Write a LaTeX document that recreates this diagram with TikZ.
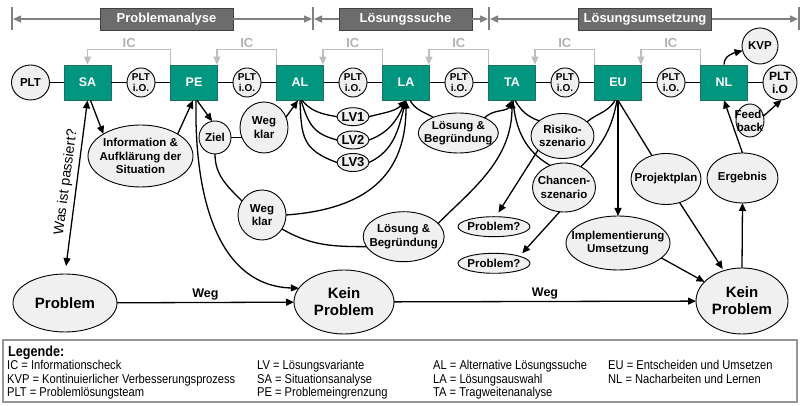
\documentclass[tikz,border=0pt]{standalone}
\usepackage{fontspec}
\setmainfont{Liberation Sans}
\newfontfamily\narrowfont{Liberation Sans}[FakeStretch=0.87]
\usetikzlibrary{arrows.meta,shapes.geometric}

\definecolor{boxteal}{RGB}{0,150,128}
\definecolor{boxedge}{RGB}{28,112,96}
\definecolor{phasefill}{RGB}{108,108,108}
\definecolor{bargray}{RGB}{128,128,128}
\definecolor{icgray}{RGB}{190,190,190}
\definecolor{ictext}{RGB}{178,178,178}
\definecolor{bubfill}{RGB}{240,240,240}
\definecolor{legendedge}{RGB}{150,150,150}

\newcommand{\fs}[2]{\fontsize{#1}{#2}\selectfont}

\begin{document}
\begin{tikzpicture}[x=1pt, y=1pt,
  conn/.style={line width=1.3pt, black},
  arr/.style={conn, -{Triangle[length=8pt,width=7pt]}},
  dblarr/.style={conn, {Triangle[length=8pt,width=7pt]}-{Triangle[length=8pt,width=7pt]}},
  barr/.style={line width=1.3pt, bargray, -{Triangle[length=8pt,width=7pt]}},
  phasetick/.style={line width=1.3pt, bargray},
  icarr/.style={line width=1.3pt, icgray, -{Triangle[length=8pt,width=7pt]}},
  iclbl/.style={above=1pt, inner sep=0pt, text=ictext, font=\bfseries\fs{13}{15}},
  stepbox/.style={rectangle, fill=boxteal, draw=boxedge, line width=0.8pt,
    minimum width=47pt, minimum height=35pt, inner sep=0pt, text=white,
    font=\bfseries\fs{12.5}{14}},
  phase/.style={rectangle, fill=phasefill, draw=black!75, line width=0.8pt,
    minimum width=133pt, minimum height=22pt, inner sep=0pt, text=white,
    font=\bfseries\fs{13}{15}},
  bub/.style 2 args={ellipse, draw=black, line width=0.9pt, fill=bubfill,
    inner sep=0pt, outer sep=0pt, minimum width=#1, minimum height=#2},
  lbl/.style={align=center, inner sep=0pt, font=\bfseries\fs{11.5}{13.5}},
  txt/.style={label={[lbl]center:#1}},
  txtf/.style 2 args={label={[lbl,font=#1]center:#2}},
  weglbl/.style={above=2pt, inner sep=0pt, font=\bfseries\fs{12.5}{14}},
  legtxt/.style={anchor=base west, inner sep=0pt, font=\narrowfont\fs{12.8}{14}},
  legtitle/.style={anchor=base west, inner sep=0pt, font=\narrowfont\bfseries\fs{14.5}{16}},
]
\useasboundingbox (0,0) rectangle (801,406);

% ---------- phase bar ----------
\node[phase] (ph1) at (166.5,387) {Problemanalyse};
\node[phase] (ph2) at (405.5,387) {Lösungssuche};
\node[phase] (ph3) at (645,387) {Lösungsumsetzung};
\coordinate (t0) at (12,387);
\coordinate (t1) at (313,387);
\coordinate (t2) at (489,387);
\coordinate (t3) at (799,387);
\foreach \t in {t0,t1,t2,t3} {\draw[phasetick] ([yshift=-11.5]\t) -- ([yshift=11.5]\t);}
\draw[barr] (ph1.west) -- ([xshift=1]t0);
\draw[barr] (ph1.east) -- ([xshift=-1]t1);
\draw[barr] (ph2.west) -- ([xshift=1]t1);
\draw[barr] (ph2.east) -- ([xshift=-1]t2);
\draw[barr] (ph3.west) -- ([xshift=1]t2);
\draw[barr] (ph3.east) -- ([xshift=-1]t3);

% ---------- process steps ----------
\foreach \n/\x in {SA/87.5,PE/194,AL/300,LA/406,TA/512,EU/618,NL/724}
  {\node[stepbox] (\n) at (\x,323.5) {\n};}
\foreach \i/\x in {1/141,2/247,3/353,4/459,5/565,6/671}
  {\node[bub={28}{29}, txtf={\bfseries\fs{10}{10.5}}{PLT\\i.O.}] (io\i) at (\x,323.5) {};}
\node[bub={38}{35}, txt={PLT}] (plt0) at (30.5,323.5) {};
\node[bub={34}{35}, txtf={\bfseries\fs{12}{13}}{PLT\\i.O}] (pltR) at (780,323.5) {};
\node[bub={36}{36}, txt={KVP}] (kvp) at (760,360) {};
\node[bub={28}{33}, txtf={\bfseries\fs{11.5}{13}}{Feed-\\back}] (fb) at (750,285.5) {};

\draw[conn] (plt0) -- (SA) -- (io1) -- (PE) -- (io2) -- (AL) -- (io3) -- (LA)
  -- (io4) -- (TA) -- (io5) -- (EU) -- (io6) -- (NL) -- (pltR);

% ---------- information checks ----------
\draw[icarr] ([xshift=0.7]PE.north west) -- ++(0,15) -| node[iclbl,pos=0.25] (ic1) {IC} (SA.north);
\draw[icarr] ([xshift=0.7]AL.north west) -- ++(0,15) -| node[iclbl,pos=0.25] (ic2) {IC} ([xshift=-1]PE.north east);
\draw[icarr] ([xshift=0.7]LA.north west) -- ++(0,15) -| node[iclbl,pos=0.25] (ic3) {IC} ([xshift=-1]AL.north east);
\draw[icarr] ([xshift=0.7]TA.north west) -- ++(0,15) -| node[iclbl,pos=0.25] (ic4) {IC} ([xshift=-1]LA.north east);
\draw[icarr] ([xshift=0.7]EU.north west) -- ++(0,15) -| node[iclbl,pos=0.25] (ic5) {IC} ([xshift=-1]TA.north east);
\draw[icarr] ([xshift=0.7]NL.north west) -- ++(0,15) -| node[iclbl,pos=0.25] (ic6) {IC} ([xshift=-1]EU.north east);

% ---------- bubbles ----------
\node[bub={105}{62}, txt={Information \&\\Aufklärung der\\Situation}] (info) at (140.5,250) {};
\node[bub={32}{33}, txt={Ziel}] (ziel) at (215,268.5) {};
\node[bub={48}{51}, txt={Weg\\klar}] (wk1) at (264,278.5) {};
\node[bub={48}{50}, txt={Weg\\klar}] (wk2) at (262,191) {};
\node[bub={32}{18}, txtf={\bfseries\fs{13}{14}}{LV1}] (lv1) at (353,289.3) {};
\node[bub={32}{18}, txtf={\bfseries\fs{13}{14}}{LV2}] (lv2) at (353,266) {};
\node[bub={32}{18}, txtf={\bfseries\fs{13}{14}}{LV3}] (lv3) at (353,243.5) {};
\node[bub={80}{40}, txt={Lösung \&\\Begründung}] (lsg1) at (458.3,273) {};
\node[bub={81}{50}, txt={Lösung \&\\Begründung}] (lsg2) at (403.7,169.3) {};
\node[bub={63}{45}, txt={Risiko-\\szenario}] (risk) at (562.5,270) {};
\node[bub={63}{49}, txt={Chancen-\\szenario}] (chance) at (564,218.5) {};
\node[bub={72}{20}, txt={Problem?}] (pq1) at (494,179.3) {};
\node[bub={72}{20}, txt={Problem?}] (pq2) at (494,142.7) {};
\node[bub={104}{54}, txt={Implementierung\\Umsetzung}] (impl) at (618,163) {};
\node[bub={70}{51}, txt={Projektplan}] (proj) at (666,227) {};
\node[bub={71}{50}, txt={Ergebnis}] (erg) at (742.5,228) {};
\node[bub={104}{58}, txtf={\bfseries\fs{15}{17}}{Problem}] (prob) at (65,103) {};
\node[bub={100}{64}, txtf={\bfseries\fs{15}{17}}{Kein\\Problem}] (kp1) at (344,104) {};
\node[bub={92}{66}, txtf={\bfseries\fs{15}{17}}{Kein\\Problem}] (kp2) at (742,105) {};

% ---------- problem analysis ----------
\draw[dblarr, shorten <=8pt] (prob.north) -- (SA.south)
  node[pos=0.52, sloped, above=3.5pt, inner sep=0pt, font=\fs{14}{16}] (wip) {Was ist passiert?};
\draw[arr] ([xshift=3]SA.south) -- (info.north west);
\draw[arr] (info.north east) -- ([xshift=-1]PE.south);
\draw[arr] ([xshift=3]PE.south) -- (ziel.100);
\draw[arr] ([xshift=2]PE.south) .. controls (194,200) and (222,120) .. (kp1.163);
\draw[conn, shorten >=-2pt] (ziel.east) -- (ziel.east -| wk1.west);
\draw[arr] (wk1.25) -- ([xshift=-2]AL.south);
\draw[conn] (ziel.south) to[out=-90,in=135] (wk2.145);

% ---------- solution search ----------
\draw[arr] (wk2.east) .. controls (355,196) and (406,222) .. (LA.south);
\draw[conn] (wk2.-35) to[out=-30,in=180] (lsg2.195);
\draw[conn] ([xshift=2]AL.south) to[out=-50,in=170] (lv1.west);
\draw[conn] ([xshift=1]AL.south) to[out=-72,in=165,looseness=1.2] (lv2.west);
\draw[conn] (AL.south) to[out=-88,in=160,looseness=1.3] (lv3.west);
\draw[arr] (lv1.east) to[out=15,in=-135] (LA.south);
\draw[arr] (lv2.east) to[out=20,in=-115] (LA.south);
\draw[arr] (lv3.east) to[out=25,in=-105] (LA.south);
\draw[conn] ([xshift=4]LA.south) to[out=-60,in=150] (lsg1.148);
\draw[arr] (lsg1.30) to[out=45,in=-115] (TA.south);
\draw[arr] (lsg2.21) .. controls (470,215) and (512,245) .. (TA.south);

% ---------- scenarios ----------
\draw[conn] ([xshift=3]TA.south) to[out=-60,in=160] (risk.147);
\draw[conn] ([xshift=1]TA.south) to[out=-85,in=150] (chance.122);
\draw[conn] (risk.30) to[out=40,in=-120] ([xshift=-3]EU.south);
\draw[conn] (chance.51) to[out=45,in=-100] ([xshift=-1]EU.south);
\draw[arr, shorten >=5pt] (risk.210) -- (pq1.80);
\draw[arr, shorten >=4pt] (chance.260) -- (pq2.north east);

% ---------- implementation ----------
\draw[arr] (EU.south) -- (impl.north);
\draw[conn] (EU.south) -- (proj.121);
\draw[arr, shorten >=2pt] (proj.-60) -- (kp2.121);
\draw[arr] (impl.-19) -- (kp2.153);
\draw[arr] (kp2.north) -- (erg.south);
\draw[arr] (erg.north) -- (NL.south);
\draw[arr] (NL.north) to[out=90,in=195] (kvp.195);
\draw[arr] (fb.18) -- (pltR.-85);

% ---------- outcome line ----------
\draw[arr] (prob) -- (kp1) node[midway, weglbl] (weg1) {Weg};
\draw[arr] (kp1) -- (kp2) node[midway, weglbl] (weg2) {Weg};

% ---------- legend ----------
\node[draw=legendedge, line width=1.5pt, minimum width=794pt, minimum height=62pt, inner sep=0pt] (legend) at (400,35) {};
\node[legtitle] (lgT) at (8,49) {Legende:};
\node[legtxt] (lg11) at (7,36.5) {IC = Informationscheck};
\node[legtxt] (lg12) at (257,36.5) {LV = Lösungsvariante};
\node[legtxt] (lg13) at (433,36.5) {AL = Alternative Lösungssuche};
\node[legtxt] (lg14) at (608,36.5) {EU = Entscheiden und Umsetzen};
\node[legtxt] (lg21) at (7,22.5) {KVP = Kontinuierlicher Verbesserungsprozess};
\node[legtxt] (lg22) at (257,22.5) {SA = Situationsanalyse};
\node[legtxt] (lg23) at (433,22.5) {LA = Lösungsauswahl};
\node[legtxt] (lg24) at (608,22.5) {NL = Nacharbeiten und Lernen};
\node[legtxt] (lg31) at (7,9.5) {PLT = Problemlösungsteam};
\node[legtxt] (lg32) at (257,9.5) {PE = Problemeingrenzung};
\node[legtxt] (lg33) at (433,9.5) {TA = Tragweitenanalyse};
\end{tikzpicture}
\end{document}
